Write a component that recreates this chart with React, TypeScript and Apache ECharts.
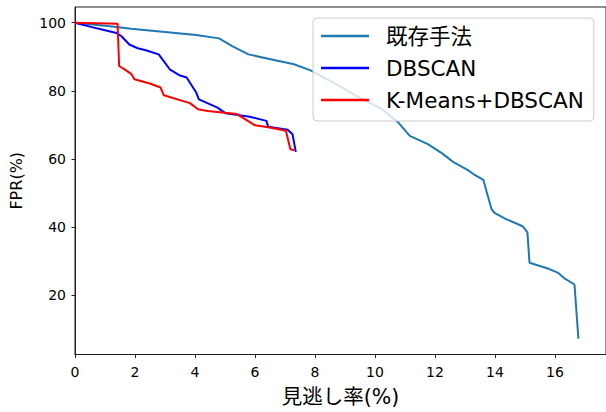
import React, { useEffect, useRef } from "react";
import * as echarts from "echarts";

const seriesNames = ["既存手法", "DBSCAN", "K-Means+DBSCAN"];
const seriesColors = ["#1f77b4", "#0000ff", "#ff0000"];

const existingMethod: [number, number][] = [
  [0, 100], [1.32, 98.8], [1.87, 98.2], [2.74, 97.5], [4.04, 96.4], [4.8, 95.4],
  [5.24, 93.1], [5.78, 90.7], [6.44, 89.4], [7.3, 87.8], [7.85, 86.0], [8.83, 81.4],
  [9.37, 78.5], [10.24, 74.6], [10.78, 70.7], [11.16, 66.8], [11.76, 64.4], [12.2, 61.9],
  [12.41, 60.5], [12.63, 59.0], [13.07, 56.9], [13.28, 55.6], [13.61, 53.9], [13.88, 45.4],
  [13.98, 44.2], [14.37, 42.4], [14.92, 40.3], [15.08, 38.5], [15.15, 29.6], [15.79, 27.8],
  [16.11, 26.6], [16.33, 24.9], [16.65, 23.2], [16.78, 7.3],
];

const dbscan: [number, number][] = [
  [0, 100], [0.56, 98.7], [1.0, 97.8], [1.38, 97.0], [1.54, 96.1], [1.81, 93.6],
  [2.09, 92.5], [2.36, 91.9], [2.79, 90.7], [3.17, 86.2], [3.5, 84.5], [3.72, 83.9],
  [4.04, 79.5], [4.13, 77.5], [4.75, 75.1], [5.02, 73.4], [5.78, 72.5], [6.38, 71.2],
  [6.44, 69.5], [7.09, 68.6], [7.25, 67.3], [7.36, 62.1],
];

const kmeansDbscan: [number, number][] = [
  [0, 100], [1.42, 99.7], [1.47, 87.3], [1.65, 86.3], [1.87, 85.0], [1.98, 83.4],
  [2.52, 82.1], [2.85, 81.0], [2.96, 78.7], [3.83, 76.4], [4.1, 74.6], [4.42, 74.1],
  [5.4, 73.2], [6.0, 69.9], [6.44, 69.3], [7.03, 68.3], [7.18, 62.9], [7.31, 62.6],
];

const xTicks = [0, 2, 4, 6, 8, 10, 12, 14, 16];
const yTicks = [20, 40, 60, 80, 100];
const xRange = [0, 17.7];
const yRange = [2.67, 104.6];
const xTitle = "見逃し率(%)";
const yTitle = "FPR(%)";

const FONT = "'DejaVu Sans', 'Noto Sans CJK JP', sans-serif";

export default function App() {
  const ref = useRef<HTMLDivElement>(null);
  useEffect(() => {
    if (!ref.current) return;
    const chart = echarts.init(ref.current, null, { renderer: "svg" });
    const allData = [existingMethod, dbscan, kmeansDbscan];
    chart.setOption({
      animation: false,
      backgroundColor: "#ffffff",
      grid: { left: 72.7, top: 7, right: -9.4, bottom: 56.7, show: true, borderColor: "#222", borderWidth: 1 },
      xAxis: {
        type: "value",
        min: xRange[0],
        max: xRange[1],
        name: xTitle,
        nameLocation: "middle",
        nameGap: 32,
        nameTextStyle: { fontFamily: FONT, fontSize: 20.5, color: "#000" },
        splitLine: { show: false },
        axisLine: { show: true, onZero: false, lineStyle: { color: "#222", width: 1 } },
        axisTick: { show: true, length: 3.5, lineStyle: { color: "#222" }, customValues: xTicks },
        axisLabel: { fontFamily: FONT, fontSize: 14, color: "#000", margin: 10, customValues: xTicks },
      },
      yAxis: {
        type: "value",
        min: yRange[0],
        max: yRange[1],
        name: yTitle,
        nameLocation: "middle",
        nameRotate: 90,
        nameGap: 51,
        nameTextStyle: { fontFamily: FONT, fontSize: 16, color: "#000" },
        splitLine: { show: false },
        axisLine: { show: true, onZero: false, lineStyle: { color: "#222", width: 1 } },
        axisTick: { show: true, length: 3.5, lineStyle: { color: "#222" }, customValues: yTicks },
        axisLabel: { fontFamily: FONT, fontSize: 14, color: "#000", margin: 9, customValues: yTicks },
      },
      legend: {
        orient: "vertical",
        left: 313,
        top: 18,
        align: "left",
        data: seriesNames,
        icon: "rect",
        itemWidth: 48,
        itemHeight: 2.5,
        itemGap: 8,
        padding: [6, 10, 9, 8],
        backgroundColor: "rgba(255,255,255,0.8)",
        borderColor: "#cccccc",
        borderWidth: 1,
        borderRadius: 4,
        textStyle: { fontFamily: FONT, fontSize: 21.5, color: "#000", lineHeight: 24, padding: [0, 0, 0, 12] },
      },
      series: seriesNames.map((name, i) => ({
        name,
        type: "line",
        data: allData[i],
        showSymbol: false,
        symbol: "none",
        color: seriesColors[i],
        lineStyle: { color: seriesColors[i], width: 2 },
        z: 2 + i,
      })),
    });
    return () => chart.dispose();
  }, []);
  return <div ref={ref} style={{ position: "fixed", left: 0, top: 0, width: 606, height: 412 }} />;
}
